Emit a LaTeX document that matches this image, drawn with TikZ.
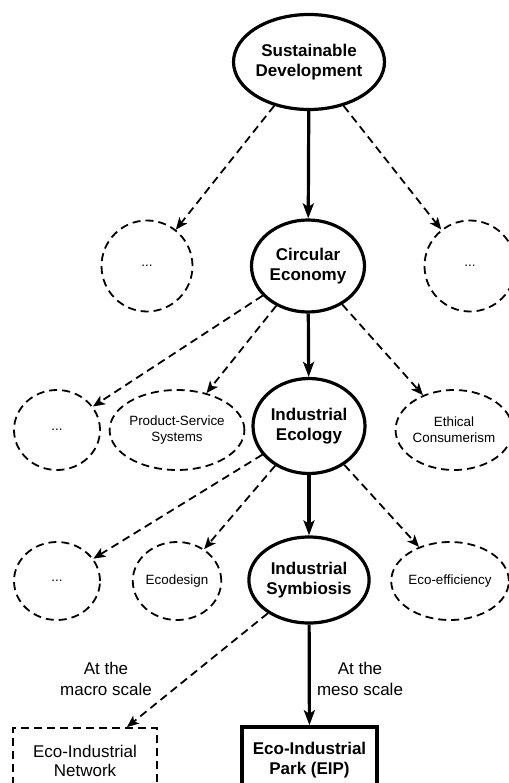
\documentclass[tikz,border=0pt]{standalone}
\usepackage{fontspec}
\setmainfont{Liberation Sans}
\usetikzlibrary{arrows.meta,shapes.geometric}

\begin{document}
\begin{tikzpicture}[x=1pt,y=-1pt,
    concept/.style={ellipse,draw,line width=3.2pt,align=center,inner sep=0pt,
        font=\fontsize{17}{19.5}\selectfont\bfseries},
    other/.style={ellipse,draw,line width=1.8pt,dash pattern=on 8pt off 5pt,align=center,
        inner sep=0pt,font=\fontsize{13.4}{16}\selectfont},
    note/.style={align=center,font=\fontsize{17}{21}\selectfont}]
\useasboundingbox (0,0) rectangle (508,783);

\begin{scope}[every node/.style={concept}]
    \node[minimum width=138pt,minimum height=95pt] (sd) at (309,62) {Sustainable\\Development};
    \node[minimum width=113pt,minimum height=92pt] (ce) at (308,266) {Circular\\Economy};
    \node[minimum width=112pt,minimum height=95pt] (ie) at (309,426) {Industrial\\Ecology};
    \node[minimum width=112pt,minimum height=86pt] (is) at (309,580) {Industrial\\Symbiosis};
\end{scope}

\begin{scope}[every node/.style={other}]
    \node[minimum width=91pt,minimum height=91pt] (sdl) at (147,266) {...};
    \node[minimum width=91pt,minimum height=91pt] (sdr) at (470,266) {...};
    \node[minimum width=86pt,minimum height=80pt] (cel) at (57,430) {...};
    \node[minimum width=117pt,minimum height=80pt] (pss) at (177,430) {Product-Service\\Systems};
    \node[minimum width=98pt,minimum height=80pt] (ec) at (454,430) {Ethical\\Consumerism};
    \node[minimum width=86pt,minimum height=78pt] (iel) at (57,581) {...};
    \node[minimum width=84pt,minimum height=78pt] (eco) at (177,581) {Ecodesign};
    \node[minimum width=104pt,minimum height=78pt] (eff) at (450,581) {Eco-efficiency};
\end{scope}

\node[draw,line width=1.8pt,dash pattern=on 8pt off 5pt,minimum width=144pt,minimum height=66pt,
      align=center,font=\fontsize{17}{19.5}\selectfont] (net) at (85,761) {Eco-Industrial\\Network};
\node[draw,line width=3.6pt,minimum width=135pt,minimum height=66pt,
      align=center,font=\fontsize{17}{19.5}\selectfont\bfseries] (eip) at (309.5,760) {Eco-Industrial\\Park (EIP)};

\node[note] (macro) at (106,679) {At the\\macro scale};
\node[note] (meso) at (360,679) {At the\\meso scale};

\begin{scope}[every edge/.style={draw,line width=1.8pt,dash pattern=on 8pt off 5pt,
                  -{Stealth[length=12pt,width=10pt,inset=3pt]}}]
    \path (sd) edge (sdl);
    \path (sd) edge (sdr);
    \path (ce) edge (cel);
    \path (ce) edge (pss);
    \path (ce) edge (ec);
    \path (ie) edge (iel);
    \path (ie) edge (eco);
    \path (ie) edge (eff);
    \path (is) edge (net);
\end{scope}

\begin{scope}[every edge/.style={draw,line width=3.2pt,
                  -{Stealth[length=15pt,width=11pt,inset=3.5pt]}}]
    \path (sd) edge (ce);
    \path (ce) edge (ie);
    \path (ie) edge (is);
    \path (is) edge (eip);
\end{scope}
\end{tikzpicture}
\end{document}
